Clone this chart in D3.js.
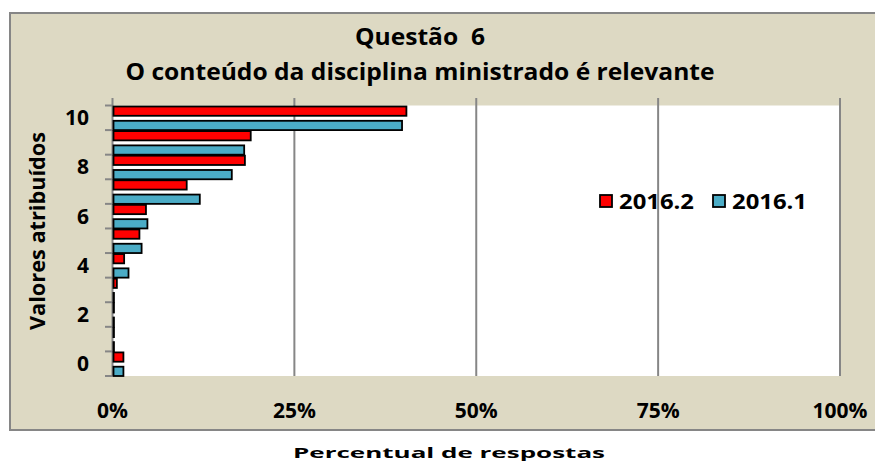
<!DOCTYPE html>
<html>
<head>
<meta charset="utf-8">
<script src="https://cdn.jsdelivr.net/npm/d3@7"></script>
<style>
  body { margin:0; background:#fff; }
  text { font-family: "Open Sans", "Liberation Sans", sans-serif; font-weight:700; fill:#000; white-space:pre; }
</style>
</head>
<body>
<div id="chart"></div>
<script>
// Questão 6 – barras horizontais, percentual por valor atribuído
const categories = [10, 9, 8, 7, 6, 5, 4, 3, 2, 1, 0];
const labeled    = [10, 8, 6, 4, 2, 0];
const series     = ['2016.2', '2016.1'];
const colors     = ['#ff0000', '#4bacc6'];
// percentuais (mesma ordem de categories)
const val2016_2  = [40.4, 19.0, 18.2, 10.2, 4.6, 3.7, 1.6, 0.6, 0.2, 0.2, 1.5];
const val2016_1  = [39.8, 18.1, 16.4, 12.0, 4.8, 4.0, 2.2, 0.2, 0.2, 0.2, 1.5];
const xTicks     = [0, 25, 50, 75, 100];

const W = 875, H = 462;
const plot = { left:112.5, right:840, top:105.5, bottom:376 };

const svg = d3.select('#chart').append('svg')
  .attr('width', W).attr('height', H);

// moldura / fundo
svg.append('rect')
  .attr('x', 10).attr('y', 13).attr('width', W).attr('height', 417)
  .attr('fill', '#ddd9c3').attr('stroke', '#868686').attr('stroke-width', 2);

svg.append('rect')
  .attr('x', plot.left).attr('y', plot.top)
  .attr('width', plot.right - plot.left).attr('height', plot.bottom - plot.top)
  .attr('fill', '#fff');

const x = d3.scaleLinear().domain([0, 100]).range([plot.left, plot.right]);
const y = d3.scaleBand().domain(categories).range([plot.top, plot.bottom]);
const ySub = d3.scaleBand().domain(series).range([1, y.bandwidth()]).paddingInner(0.35);

// grade vertical
svg.selectAll('line.grid')
  .data(xTicks)
  .enter().append('line')
    .attr('class', 'grid')
    .attr('x1', d => x(d)).attr('x2', d => x(d))
    .attr('y1', 98).attr('y2', plot.bottom)
    .attr('stroke', '#868686').attr('stroke-width', 2);

// ticks do eixo y (limites das faixas)
const bounds = categories.map(c => y(c)).concat([plot.bottom]);
svg.selectAll('line.ytick')
  .data(bounds)
  .enter().append('line')
    .attr('x1', 105).attr('x2', plot.left)
    .attr('y1', d => d).attr('y2', d => d)
    .attr('stroke', '#868686').attr('stroke-width', 2);

// barras
const rows = categories.map((c, i) => ({ cat:c, vals:[val2016_2[i], val2016_1[i]] }));
const g = svg.selectAll('g.row')
  .data(rows)
  .enter().append('g')
    .attr('transform', d => `translate(0,${y(d.cat)})`);

g.selectAll('rect')
  .data(d => d.vals.map((v, j) => ({ s:series[j], v, c:colors[j] })))
  .enter().append('rect')
    .attr('x', x(0) + 1)
    .attr('y', d => ySub(d.s))
    .attr('width', d => x(d.v) - x(0) - 1)
    .attr('height', ySub.bandwidth())
    .attr('fill', d => d.c)
    .attr('stroke', '#000').attr('stroke-width', 1.8);

// eixo y rótulos
svg.selectAll('text.ylab')
  .data(labeled)
  .enter().append('text')
    .attr('x', 89).attr('y', d => y(d) + y.bandwidth()/2 + 7.5)
    .attr('text-anchor', 'end')
    .attr('font-size', 21)
    .text(d => d);

// eixo x rótulos
svg.selectAll('text.xlab')
  .data(xTicks)
  .enter().append('text')
    .attr('x', d => x(d)).attr('y', 418)
    .attr('text-anchor', 'middle')
    .attr('font-size', 21)
    .text(d => d + '%');

// títulos
svg.append('text')
  .attr('x', 420).attr('y', 45)
  .attr('text-anchor', 'middle').attr('font-size', 24)
  .attr('textLength', 130).attr('lengthAdjust', 'spacingAndGlyphs')
  .text('Questão  6');

svg.append('text')
  .attr('x', 420).attr('y', 80)
  .attr('text-anchor', 'middle').attr('font-size', 24)
  .attr('textLength', 589).attr('lengthAdjust', 'spacingAndGlyphs')
  .text('O conteúdo da disciplina ministrado é relevante');

svg.append('text')
  .attr('transform', 'translate(45,231) rotate(-90)')
  .attr('text-anchor', 'middle').attr('font-size', 21)
  .attr('textLength', 198).attr('lengthAdjust', 'spacingAndGlyphs')
  .text('Valores atribuídos');

svg.append('text')
  .attr('x', 449).attr('y', 458)
  .attr('text-anchor', 'middle').attr('font-size', 15)
  .attr('font-family', 'DejaVu Sans')
  .attr('textLength', 312).attr('lengthAdjust', 'spacingAndGlyphs')
  .text('Percentual de respostas');

// legenda
const legend = [
  { s:series[0], c:colors[0], x:600, tx:619 },
  { s:series[1], c:colors[1], x:713, tx:732 }
];
const lg = svg.selectAll('g.legend')
  .data(legend)
  .enter().append('g');
lg.append('rect')
  .attr('x', d => d.x).attr('y', 195)
  .attr('width', 12).attr('height', 12)
  .attr('fill', d => d.c)
  .attr('stroke', '#000').attr('stroke-width', 1.8);
lg.append('text')
  .attr('x', d => d.tx).attr('y', 208.5)
  .attr('font-size', 21)
  .attr('textLength', 75).attr('lengthAdjust', 'spacingAndGlyphs')
  .text(d => d.s);
</script>
</body>
</html>
